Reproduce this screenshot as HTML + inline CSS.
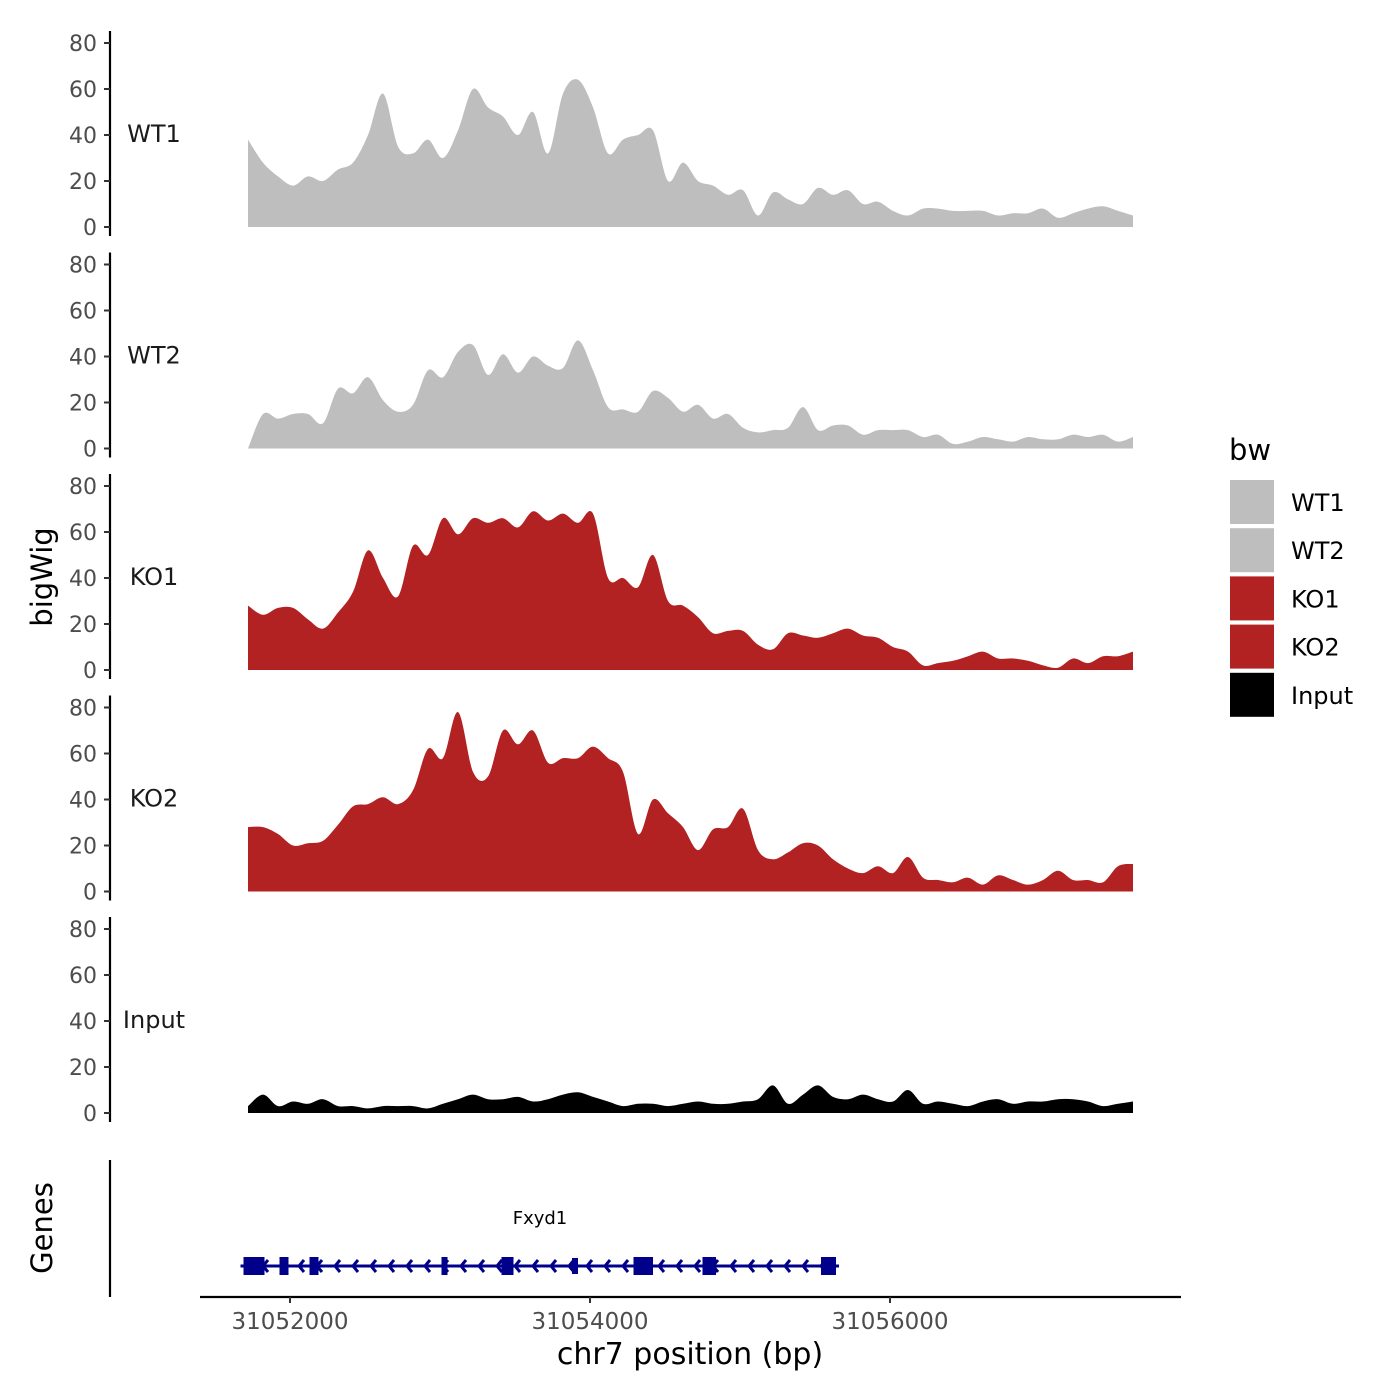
<!DOCTYPE html>
<html><head><meta charset="utf-8">
<style>
html,body{margin:0;padding:0;background:#fff;}
svg{display:block;font-family:"DejaVu Sans","Liberation Sans",sans-serif;}
</style></head>
<body>
<svg id="chart" width="1400" height="1400" viewBox="0 0 1400 1400" xmlns="http://www.w3.org/2000/svg"></svg>
<script>
const positionsStart = 31051720;
const positionsStep = 100;
const trackNames = ["WT1","WT2","KO1","KO2","Input"];
const trackColors = ["#bebebe","#bebebe","#b22222","#b22222","#000000"];
const wt1 = [38,28,22,18,22,20,25,28,40,58,35,32,38,30,42,60,52,48,40,50,32,58,64,52,32,38,40,42,20,28,20,18,14,16,5,15,12,10,17,14,16,10,11,7,5,8,8,7,7,7,5,6,6,8,4,6,8,9,7,5];
const wt2 = [0,15,13,15,15,11,26,24,31,21,16,19,34,31,42,45,32,41,33,40,36,35,47,34,18,17,16,25,22,16,19,13,15,9,7,8,9,18,8,10,10,6,8,8,8,5,6,2,3,5,4,3,5,4,4,6,5,6,3,5];
const ko1 = [28,24,27,27,22,18,25,34,52,40,32,54,50,66,59,66,64,66,62,69,65,68,64,68,40,40,36,50,30,28,23,16,17,17,11,9,16,15,14,16,18,15,14,10,8,2,3,4,6,8,5,5,4,2,1,5,3,6,6,8];
const ko2 = [28,28,25,20,21,22,29,37,38,41,38,44,62,58,78,52,50,70,64,70,56,58,58,63,58,52,25,40,34,28,18,27,28,36,18,14,17,21,20,14,10,8,11,8,15,6,5,4,6,3,7,5,3,5,9,5,5,4,11,12];
const inputTrack = [3,8,3,5,4,6,3,3,2,3,3,3,2,4,6,8,6,6,7,5,6,8,9,7,5,3,4,4,3,4,5,4,4,5,6,12,4,8,12,7,6,8,6,5,10,4,5,4,3,5,6,4,5,5,6,6,5,3,4,5];
const yTicks = [0,20,40,60,80];
const xTicks = [31052000,31054000,31056000];
const exonStarts = [31051690,31051930,31052130,31053010,31053410,31053880,31054290,31054750,31055540];
const exonEnds   = [31051830,31051990,31052190,31053050,31053490,31053920,31054420,31054840,31055640];
const exonTall   = [1,1,1,1,1,0,1,1,1];
const geneName = "Fxyd1";
const geneStart = 31051670, geneEnd = 31055660;

const NS="http://www.w3.org/2000/svg";
const svg=document.getElementById('chart');
function el(tag,attrs,parent){const e=document.createElementNS(NS,tag);for(const k in attrs)e.setAttribute(k,attrs[k]);(parent||svg).appendChild(e);return e;}
const xScale = bp => 290 + (bp-31052000)*0.15;
const panelZero = k => 227 + 221.5*k;
const yScale = (k,v) => panelZero(k) - v*2.3;
const series=[wt1,wt2,ko1,ko2,inputTrack];

series.forEach((vals,k)=>{
  const g=el('g',{});
  
  
  const pts=vals.map((v,i)=>[xScale(positionsStart+i*positionsStep),yScale(k,v)]);
  const z=panelZero(k);
  let d=`M${pts[0][0]},${z} L${pts[0][0]},${pts[0][1]}`;
  for(let i=0;i<pts.length-1;i++){
    const p0=pts[Math.max(0,i-1)],p1=pts[i],p2=pts[i+1],p3=pts[Math.min(pts.length-1,i+2)];
    const c1x=p1[0]+(p2[0]-p0[0])/6, c1y=Math.min(z,p1[1]+(p2[1]-p0[1])/6);
    const c2x=p2[0]-(p3[0]-p1[0])/6, c2y=Math.min(z,p2[1]-(p3[1]-p1[1])/6);
    d+=` C${c1x},${c1y} ${c2x},${c2y} ${p2[0]},${p2[1]}`;
  }
  d+=` L${pts[pts.length-1][0]},${z} Z`;
  const area=el('path',{d:d,fill:trackColors[k]},g);
  
  
  const ax=el('line',{x1:110,x2:110,y1:z-196,y2:z+9,stroke:'#000','stroke-width':2.2},g);
  
  
  yTicks.forEach(t=>{
    const y=yScale(k,t);
    el('line',{x1:104,x2:110,y1:y,y2:y,stroke:'#333','stroke-width':2},g);
    const tx=el('text',{x:97,y:y+8,'text-anchor':'end','font-size':22,fill:'#4d4d4d'},g);
    tx.textContent=t;
    
    
  });
  const lb=el('text',{x:154,y:z-85,'text-anchor':'middle','font-size':24,fill:'#1a1a1a'},g);
  lb.textContent=trackNames[k];
  
  
});

const gg=el('g',{});


el('line',{x1:110,x2:110,y1:1160,y2:1297,stroke:'#000','stroke-width':2.2},gg);
const gy=1266, col='#00008b';
el('line',{x1:xScale(geneStart),x2:xScale(geneEnd),y1:gy,y2:gy,stroke:col,'stroke-width':3},gg);
for(let bp=geneStart+150;bp<geneEnd;bp+=120){
  const x=xScale(bp);
  el('polyline',{points:`${x+5},${gy-6} ${x},${gy} ${x+5},${gy+6}`,fill:'none',stroke:col,'stroke-width':3},gg);
}
exonStarts.forEach((s,i)=>{
  const h=exonTall[i]?18:16;
  const r=el('rect',{x:xScale(s),y:gy-h/2,width:Math.max(4,xScale(exonEnds[i])-xScale(s)),height:h,fill:col},gg);
  
  
});
const gn=el('text',{x:540,y:1224,'text-anchor':'middle','font-size':18,fill:'#000'},gg);
gn.textContent=geneName;



const xa=el('line',{x1:200,x2:1181,y1:1297,y2:1297,stroke:'#000','stroke-width':2.2});


xTicks.forEach(t=>{
  const x=xScale(t);
  el('line',{x1:x,x2:x,y1:1297,y2:1303,stroke:'#333','stroke-width':2});
  const tx=el('text',{x:x,y:1329,'text-anchor':'middle','font-size':23,fill:'#4d4d4d'});
  tx.textContent=t;
  
  
});
const xt=el('text',{x:690,y:1364,'text-anchor':'middle','font-size':30,fill:'#000'});
xt.textContent='chr7 position (bp)';


const yt=el('text',{x:0,y:0,transform:'translate(52,577) rotate(-90)','text-anchor':'middle','font-size':29,fill:'#000'});
yt.textContent='bigWig';


const gt=el('text',{x:0,y:0,transform:'translate(52,1228) rotate(-90)','text-anchor':'middle','font-size':29,fill:'#000'});
gt.textContent='Genes';



const lg=el('g',{});


const lt=el('text',{x:1229,y:460,'font-size':29,fill:'#000'},lg);
lt.textContent='bw';
trackNames.forEach((n,i)=>{
  const y=480+48.2*i;
  const e=el('g',{},lg);
  
  
  el('rect',{x:1230,y:y,width:44,height:44,fill:trackColors[i]},e);
  const t=el('text',{x:1291,y:y+31,'font-size':24,fill:'#000'},e);
  t.textContent=n;
});
</script>
</body></html>
